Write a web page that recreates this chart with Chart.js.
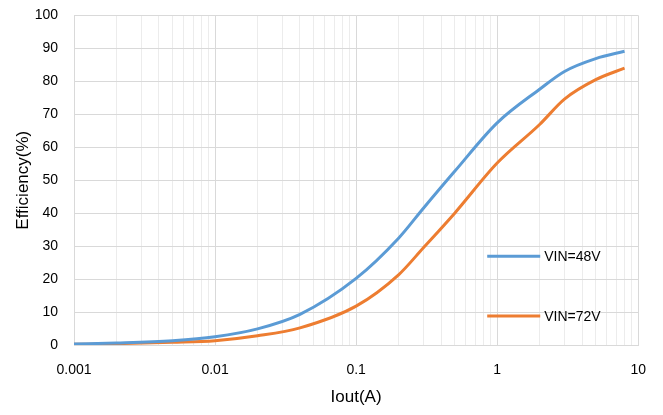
<!DOCTYPE html>
<html lang="en">
<head>
<meta charset="UTF-8">
<title>Efficiency vs Iout</title>
<script src="https://cdn.jsdelivr.net/npm/chart.js"></script>
<style>
  html, body { margin: 0; padding: 0; background: #fff; overflow: hidden; }
  .chart-container { width: 663px; height: 424px; margin-top: -9px; }
</style>
</head>
<body>
<div class="chart-container">
  <canvas id="effChart"></canvas>
</div>
<script>
// data block
const iout = [0.001, 0.002, 0.005, 0.01, 0.02, 0.04, 0.1, 0.2, 0.3, 0.5, 1, 2, 3, 5, 8];
const eff48 = [0.3, 0.6, 1.3, 2.5, 4.9, 9.3, 20.2, 32.4, 41.5, 52.7, 67.4, 77.6, 83.0, 86.9, 89.1];
const eff72 = [0.2, 0.4, 0.8, 1.3, 2.8, 5.2, 11.8, 21.3, 29.5, 40.0, 55.2, 66.9, 74.6, 80.5, 84.0];
const seriesNames = ['VIN=48V', 'VIN=72V'];
const seriesColors = ['#5B9BD5', '#ED7D31'];
const xTickLabels = ['0.001', '0.01', '0.1', '1', '10'];
const yTicks = [0, 10, 20, 30, 40, 50, 60, 70, 80, 90, 100];

const FONT = "'Liberation Sans', Arial, sans-serif";

function isDecade(v) {
  const l = Math.log10(v);
  return Math.abs(l - Math.round(l)) < 1e-9;
}

// legend drawn inside the plot area
const innerLegend = {
  id: 'innerLegend',
  afterDraw(chart) {
    const { ctx, chartArea: { right, bottom, top } } = chart;
    const h = bottom - top;
    const rows = [bottom - h * 0.269, bottom - h * 0.088];
    ctx.save();
    ctx.font = `14px ${FONT}`;
    ctx.textBaseline = 'middle';
    ctx.textAlign = 'left';
    seriesNames.forEach((name, i) => {
      const x0 = right - 151;
      ctx.strokeStyle = seriesColors[i];
      ctx.lineWidth = 3;
      ctx.beginPath();
      ctx.moveTo(x0, rows[i]);
      ctx.lineTo(x0 + 53, rows[i]);
      ctx.stroke();
      ctx.fillStyle = '#000';
      ctx.fillText(name, x0 + 57, rows[i] + 1);
    });
    ctx.restore();
  }
};

const data = {
  datasets: [
    {
      label: seriesNames[0],
      data: iout.map((x, i) => ({ x: x, y: eff48[i] })),
      borderColor: seriesColors[0],
      backgroundColor: seriesColors[0],
      borderWidth: 3,
      pointRadius: 0,
      cubicInterpolationMode: 'monotone'
    },
    {
      label: seriesNames[1],
      data: iout.map((x, i) => ({ x: x, y: eff72[i] })),
      borderColor: seriesColors[1],
      backgroundColor: seriesColors[1],
      borderWidth: 3,
      pointRadius: 0,
      cubicInterpolationMode: 'monotone'
    }
  ]
};

const config = {
  type: 'line',
  data: data,
  options: {
    responsive: true,
    maintainAspectRatio: false,
    animation: false,
    layout: { padding: { top: 6, right: 20, left: 9, bottom: 3 } },
    plugins: {
      legend: { display: false },
      tooltip: { enabled: false }
    },
    scales: {
      x: {
        type: 'logarithmic',
        min: 0.001,
        max: 10,
        afterBuildTicks(scale) {
          const ticks = [];
          for (let d = 0; d < xTickLabels.length - 1; d++) {
            const base = parseFloat(xTickLabels[d]);
            for (let m = 1; m < 10; m++) ticks.push({ value: base * m });
          }
          ticks.push({ value: parseFloat(xTickLabels[xTickLabels.length - 1]) });
          scale.ticks = ticks;
        },
        afterFit(scale) { scale.height = 67; },
        ticks: {
          autoSkip: false,
          maxRotation: 0,
          padding: 17,
          color: '#000',
          font: { family: FONT, size: 14 },
          callback(v) {
            if (!isDecade(v)) return '';
            return xTickLabels.find(t => Math.abs(parseFloat(t) - v) < v * 1e-6) || '';
          }
        },
        grid: {
          color: ctx => (ctx.tick && isDecade(ctx.tick.value)) ? '#d9d9d9' : '#ececec',
          lineWidth: 1,
          drawTicks: false
        },
        border: { color: '#d9d9d9' },
        title: {
          display: true,
          text: 'Iout(A)',
          color: '#000',
          font: { family: FONT, size: 17 },
          padding: { top: 5 }
        }
      },
      y: {
        min: 0,
        max: 100,
        afterBuildTicks(scale) {
          scale.ticks = yTicks.map(v => ({ value: v }));
        },
        afterFit(scale) { scale.width = 65; },
        ticks: {
          padding: 16,
          color: '#000',
          font: { family: FONT, size: 14 }
        },
        grid: {
          color: '#d9d9d9',
          drawTicks: false
        },
        border: { color: '#d9d9d9' },
        title: {
          display: true,
          text: 'Efficiency(%)',
          color: '#000',
          font: { family: FONT, size: 17 },
          padding: { bottom: 0 }
        }
      }
    }
  },
  plugins: [innerLegend]
};

new Chart(document.getElementById('effChart'), config);
</script>
</body>
</html>
